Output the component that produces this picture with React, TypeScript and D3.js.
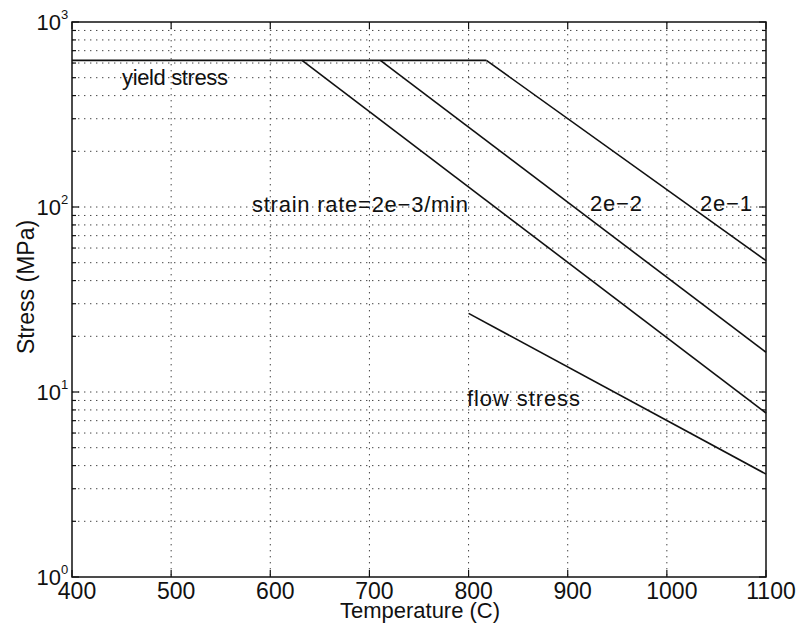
import React from "react";
import * as d3 from "d3";

// Temperature (°C) and stress (MPa) for each curve
const yieldTemps = [400, 818];
const yieldValues = [620, 620];

const rate2e3Temps = [632, 1100];
const rate2e3Values = [620, 7.7];

const rate2e2Temps = [711, 1100];
const rate2e2Values = [620, 16.4];

const rate2e1Temps = [818, 1100];
const rate2e1Values = [620, 51.3];

const flowTemps = [800, 1100];
const flowValues = [26.6, 3.6];

const xTicks = [400, 500, 600, 700, 800, 900, 1000, 1100];
const yDecades = [0, 1, 2, 3];

const W = 797;
const H = 624;
const FONT = "'Liberation Sans', Arial, Helvetica, sans-serif";

export default function App() {
  const x = d3.scaleLinear().domain([400, 1100]).range([72, 766]);
  const y = d3.scaleLog().domain([1, 1000]).range([577, 22]);

  const line = d3
    .line<[number, number]>()
    .x((d) => x(d[0]))
    .y((d) => y(d[1]));

  const zip = (a: number[], b: number[]) => a.map((t, i) => [t, b[i]] as [number, number]);

  const curves = [
    zip(yieldTemps, yieldValues),
    zip(rate2e3Temps, rate2e3Values),
    zip(rate2e2Temps, rate2e2Values),
    zip(rate2e1Temps, rate2e1Values),
    zip(flowTemps, flowValues),
  ];

  // every 1..9 × 10^k inside the range
  const yGrid: number[] = [];
  for (let k = 0; k < 3; k++) for (let m = 1; m <= 9; m++) yGrid.push(m * Math.pow(10, k));
  yGrid.push(1000);

  const [x0, x1] = x.range();
  const [yb, yt] = y.range();

  return (
    <svg
      width={W}
      height={H}
      style={{ position: "absolute", left: 0, top: 0, background: "#fff" }}
      fontFamily={FONT}
    >
      {/* grid */}
      <g stroke="#444" strokeWidth={1} strokeDasharray="1.4 4.6">
        {yGrid
          .filter((v) => v > 1 && v < 1000)
          .map((v) => (
            <line key={"gy" + v} x1={x0} x2={x1} y1={y(v)} y2={y(v)} />
          ))}
        {xTicks
          .filter((t) => t > 400 && t < 1100)
          .map((t) => (
            <line key={"gx" + t} x1={x(t)} x2={x(t)} y1={yt} y2={yb} />
          ))}
      </g>

      {/* ticks */}
      <g stroke="#111" strokeWidth={1.2}>
        {yGrid.map((v) => {
          const major = Math.abs(Math.log10(v) - Math.round(Math.log10(v))) < 1e-9;
          const len = major ? 7 : 4;
          return (
            <g key={"ty" + v}>
              <line x1={x0} x2={x0 + len} y1={y(v)} y2={y(v)} />
              <line x1={x1} x2={x1 - len} y1={y(v)} y2={y(v)} />
            </g>
          );
        })}
        {xTicks.map((t) => (
          <g key={"tx" + t}>
            <line x1={x(t)} x2={x(t)} y1={yb} y2={yb - 7} />
            <line x1={x(t)} x2={x(t)} y1={yt} y2={yt + 7} />
          </g>
        ))}
      </g>

      {/* frame */}
      <rect
        x={x0}
        y={yt}
        width={x1 - x0}
        height={yb - yt}
        fill="none"
        stroke="#111"
        strokeWidth={1.5}
      />

      {/* curves */}
      <g fill="none" stroke="#111" strokeWidth={1.6}>
        {curves.map((c, i) => (
          <path key={"c" + i} d={line(c) || ""} />
        ))}
      </g>

      {/* x tick labels */}
      <g fontSize={23} fill="#111" textAnchor="middle">
        {xTicks.map((t) => (
          <text key={"lx" + t} x={x(t) + 5} y={599}>
            {t}
          </text>
        ))}
      </g>

      {/* y tick labels: 10 with superscript exponent */}
      <g fill="#111">
        {yDecades.map((k) => {
          const yy = y(Math.pow(10, k));
          return (
            <g key={"ly" + k}>
              <text x={61} y={yy + 8} fontSize={22} textAnchor="end">
                10
              </text>
              <text x={61} y={yy - 3} fontSize={13}>
                {k}
              </text>
            </g>
          );
        })}
      </g>

      {/* annotations */}
      <g fontSize={22} fill="#111">
        <text x={122} y={85} textLength={106} lengthAdjust="spacing">
          yield stress
        </text>
        <text x={252} y={212} textLength={216} lengthAdjust="spacing">
          strain rate=2e−3/min
        </text>
        <text x={590} y={211} textLength={52} lengthAdjust="spacing">
          2e−2
        </text>
        <text x={700} y={211} textLength={52} lengthAdjust="spacing">
          2e−1
        </text>
        <text x={467} y={406} textLength={113} lengthAdjust="spacing">
          flow stress
        </text>
      </g>

      {/* axis titles */}
      <text x={420} y={618} fontSize={22} fill="#111" textAnchor="middle">
        Temperature (C)
      </text>
      <text
        transform="translate(34,287) rotate(-90)"
        fontSize={23}
        fill="#111"
        textAnchor="middle"
      >
        Stress (MPa)
      </text>
    </svg>
  );
}
